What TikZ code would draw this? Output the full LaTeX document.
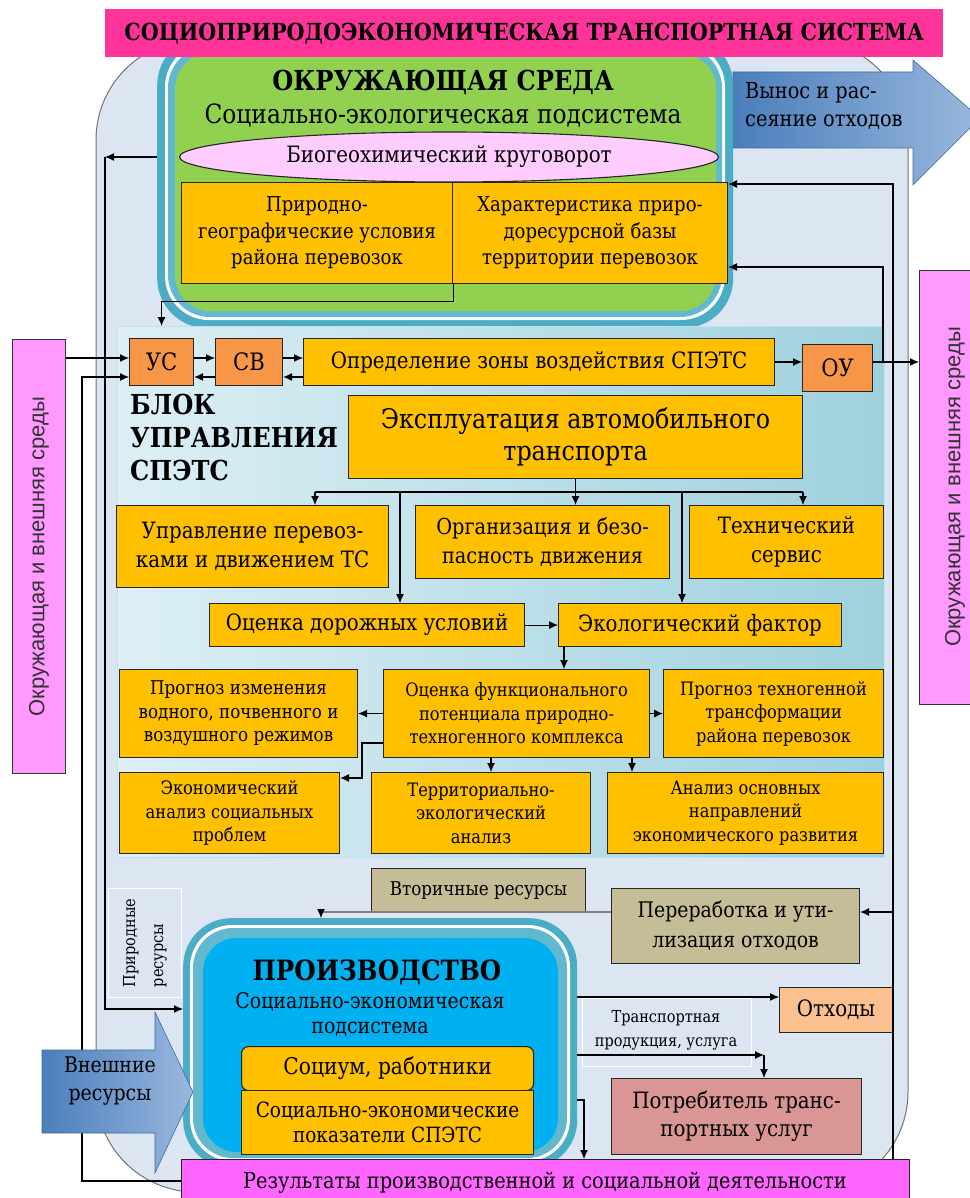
\documentclass[tikz,border=0pt]{standalone}
\usepackage{fontspec}
\setmainfont{DejaVu Serif}[FakeStretch=0.88]
\newfontfamily\sidefont{Liberation Sans}
\usetikzlibrary{arrows.meta,shapes.geometric,calc}

\definecolor{titlepink}{HTML}{FF3399}
\definecolor{respink}{HTML}{FF66FF}
\definecolor{sidepink}{HTML}{FF99FF}
\definecolor{elpink}{HTML}{FFCCFF}
\definecolor{gold}{HTML}{FFC000}
\definecolor{orng}{HTML}{F79646}
\definecolor{khaki}{HTML}{C4BD97}
\definecolor{peach}{HTML}{FAC090}
\definecolor{rosy}{HTML}{D99694}
\definecolor{leaf}{HTML}{92D050}
\definecolor{tealA}{HTML}{4BACC6}
\definecolor{tealB}{HTML}{62B8CF}
\definecolor{sky}{HTML}{00B0F0}
\definecolor{outerbg}{HTML}{DCE6F2}
\definecolor{blkL}{HTML}{DDEFF5}
\definecolor{blkR}{HTML}{9ED1DE}
\definecolor{arrL}{HTML}{4A7EBB}
\definecolor{arrR}{HTML}{9AB8DE}
\definecolor{arrEdge}{HTML}{3F6A9E}

% rectangle node given by its corners: name, x1, y1, x2, y2, style, text
\newcommand\bx[7]{%
  \pgfmathsetmacro\bxw{#4-#2}\pgfmathsetmacro\bxh{#5-#3}%
  \node[#6,anchor=north west,minimum width=\bxw pt,minimum height=\bxh pt] (#1) at (#2,#3) {#7};}
\newcommand\fsz[2]{\fontsize{#1}{#2}\selectfont}

\begin{document}
\begin{tikzpicture}[x=1pt,y=-1pt,
  box/.style={draw=black!85,line width=1.1pt,fill=gold,inner sep=0pt,align=center},
  obox/.style={box,fill=orng},
  pinkbox/.style={draw=black!80,line width=1.1pt,fill=sidepink,inner sep=0pt},
  arr/.style={-{Latex[length=9pt,width=8pt]},line width=1.1pt},
  ln/.style={line width=1.1pt},
  bigarrow/.style={left color=arrL,right color=arrR,draw=arrEdge,line width=0.6pt},
  lbl/.style={inner sep=0pt,align=center}]

\useasboundingbox (0,0) rectangle (969,1198);

% common background of the whole system
\draw[fill=outerbg,draw=black!55,line width=1pt,rounded corners=100] (96,40) rectangle (908,1192);

% side boxes: environment and outer world
\bx{sideL}{12}{339}{65}{773}{pinkbox}{}
\node[rotate=90,inner sep=0pt,font=\sidefont\fsz{22}{26},text=black!80] at (sideL.center) {Окружающая и внешняя среды};
\bx{sideR}{919}{270}{990}{704}{pinkbox}{}
\node[rotate=90,inner sep=0pt,font=\sidefont\fsz{22}{26},text=black!80] at (955,487) {Окружающая и внешняя среды};

% export and dispersion of waste
\draw[bigarrow] (733,72) -- (913,72) -- (913,60) -- (980,118) -- (913,185) -- (913,148) -- (733,148) -- cycle;
\node[lbl,anchor=west,align=left,font=\fsz{22}{28}] (vyn) at (745,106) {Вынос и рас-\\сеяние отходов};

% ---------- environment subsystem ----------
\bx{env}{157}{35}{733}{328}{fill=tealA,draw=none,rounded corners=50}{}
\fill[white,rounded corners=44] (165,43) rectangle (725,320);
\fill[tealB,rounded corners=42] (168,46) rectangle (722,317);
\fill[leaf,rounded corners=36] (175,53) rectangle (716,311);

% title
\bx{title}{105}{9}{943}{57}{fill=titlepink,draw=none,inner sep=0pt,font=\bfseries\fsz{23.5}{26}}{СОЦИОПРИРОДОЭКОНОМИЧЕСКАЯ ТРАНСПОРТНАЯ СИСТЕМА}

\node[lbl,font=\bfseries\fsz{27.5}{30}] (envt) at (443,82) {ОКРУЖАЮЩАЯ СРЕДА};
\node[lbl,font=\fsz{26.5}{30}] (envs) at (443,115) {Социально-экологическая подсистема};
\node[ellipse,draw=black!85,line width=1.1pt,fill=elpink,minimum width=539pt,minimum height=50pt,inner sep=0pt,font=\fsz{22.5}{26}] (bio) at (449,157) {Биогеохимический круговорот};
\bx{pg}{181}{182}{452}{283}{box,font=\fsz{20.5}{26.5}}{Природно-\\географические условия\\района перевозок}
\bx{hr}{452}{182}{727}{283}{box,font=\fsz{20.5}{26.5}}{Характеристика приро-\\доресурсной базы\\территории перевозок}

% ---------- control block ----------
\bx{blk}{117}{326}{884}{857}{left color=blkL,right color=blkR,draw=tealA!35,line width=1pt}{}
\bx{us}{129}{338}{193}{385}{obox,font=\fsz{24}{28}}{УС}
\bx{sv}{215}{338}{282}{385}{obox,font=\fsz{24}{28}}{СВ}
\bx{opr}{303}{338}{774}{385}{box,font=\fsz{22.5}{26}}{Определение зоны воздействия СПЭТС}
\bx{ou}{802}{344}{872}{391}{obox,font=\fsz{24}{28}}{ОУ}
\node[anchor=north west,inner sep=0pt,align=left,font=\bfseries\fsz{27.5}{33}] (blkl) at (130,394) {БЛОК\\УПРАВЛЕНИЯ\\СПЭТС};
\bx{exp}{348}{395}{802}{478}{box,font=\fsz{27}{32}}{Эксплуатация автомобильного\\транспорта}
\bx{upr}{116}{505}{388}{587}{box,font=\fsz{22.5}{29}}{Управление перевоз-\\ками и движением ТС}
\bx{org}{415}{505}{669}{578}{box,font=\fsz{22}{29}}{Организация и безо-\\пасность движения}
\bx{teh}{689}{505}{883}{578}{box,font=\fsz{22.5}{29}}{Технический\\сервис}
\bx{ocd}{209}{603}{524}{646}{box,font=\fsz{22.5}{26}}{Оценка дорожных условий}
\bx{eko}{558}{603}{841}{646}{box,font=\fsz{22.5}{26}}{Экологический фактор}
\bx{prz}{119}{669}{357}{757}{box,font=\fsz{19}{23.5}}{Прогноз изменения\\водного, почвенного и\\воздушного режимов}
\bx{ofp}{383}{669}{649}{757}{box,font=\fsz{18.5}{23.5}}{Оценка функционального\\потенциала природно-\\техногенного комплекса}
\bx{ptt}{663}{669}{883}{757}{box,font=\fsz{18.5}{23.5}}{Прогноз техногенной\\трансформации\\района перевозок}
\bx{ean}{119}{772}{339}{853}{box,font=\fsz{18.5}{23.5}}{Экономический\\анализ социальных\\проблем}
\bx{tea}{371}{772}{590}{853}{box,font=\fsz{18.5}{23.5}}{Территориально-\\экологический\\анализ}
\bx{aon}{607}{772}{883}{853}{box,font=\fsz{18.5}{23.5}}{Анализ основных\\направлений\\экономического развития}

% ---------- production subsystem ----------
\bx{nat}{108}{888}{181}{997}{draw=white,line width=1pt,inner sep=0pt}{}
\node[rotate=90,inner sep=0pt,align=left,font=\fsz{16.5}{28}] (natl) at (nat.center) {Природные\\ресурсы};
\bx{trl}{582}{998}{751}{1066}{draw=white,line width=1pt,inner sep=0pt}{}
\node[lbl,font=\fsz{16.5}{24}] (trlt) at (666,1030) {Транспортная\\продукция, услуга};

\bx{vr}{371}{868}{585}{912}{box,fill=khaki,font=\fsz{19}{24}}{Вторичные ресурсы}
\bx{per}{611}{888}{859}{963}{box,fill=khaki,font=\fsz{21.5}{30}}{Переработка и ути-\\лизация отходов}

\bx{prod}{183}{918}{577}{1168}{fill=tealA,draw=none,rounded corners=48}{}
\fill[white,rounded corners=42] (190,925) rectangle (570,1161);
\fill[tealB,rounded corners=40] (193,928) rectangle (567,1158);
\fill[sky,rounded corners=34] (203,938) rectangle (558,1152);
\node[lbl,font=\bfseries\fsz{28}{30}] (prodt) at (377,972) {ПРОИЗВОДСТВО};
\node[lbl,font=\fsz{21.5}{25}] (prods) at (370,1014) {Социально-экономическая\\подсистема};
\bx{soc}{241}{1046}{533}{1090}{box,rounded corners=7,font=\fsz{23}{27}}{Социум, работники}
\bx{sep}{241}{1090}{533}{1154}{box,font=\fsz{21}{25}}{Социально-экономические\\показатели СПЭТС}

\bx{otx}{779}{987}{892}{1032}{box,fill=peach,font=\fsz{22.5}{27}}{Отходы}
\bx{ptr}{611}{1078}{861}{1154}{box,fill=rosy,font=\fsz{22.5}{28}}{Потребитель транс-\\портных услуг}
\bx{res}{181}{1159}{909}{1215}{box,fill=respink}{}
\node[lbl,font=\fsz{22}{27}] (rest) at (545,1183) {Результаты производственной и социальной деятельности};

% ---------- connectors ----------
\coordinate (yA) at (0,358);
\coordinate (yB) at (0,377);
\coordinate (yOU) at (0,362);
\coordinate (xLa) at (105,0);
\coordinate (xLb) at (82,0);
\coordinate (xRa) at (883,0);
\coordinate (xRb) at (893,0);
\coordinate (yHr1) at (0,184);
\coordinate (yHr2) at (0,267);
\coordinate (yNat) at (0,1009);
\coordinate (yRes) at (0,1181);
\coordinate (yPer) at (0,912);

% biogeochemical cycle -> natural resources -> production
\coordinate (bioL) at (xLa |- bio.center);
\draw[arr] (env.west |- bio.center) -- (bioL);
\draw[arr] (bioL) -- (xLa |- yNat) -- (prod.west |- yNat);

% environment conditions -> control block
\draw[arr] (pg.south east) -- ++(0,17) -| (us.north |- blk.north);

% outer world and results -> УС
\draw[arr] (sideL.east |- yA) -- (us.west |- yA);
\draw[arr] (res.west |- yRes) -| (xLb |- yB) -- (us.west |- yB);

% control loop
\draw[arr] (us.east |- yA) -- (sv.west |- yA);
\draw[arr] (sv.west |- yB) -- (us.east |- yB);
\draw[arr] (sv.east |- yA) -- (opr.west |- yA);
\draw[arr] (opr.west |- yB) -- (sv.east |- yB);
\draw[arr] (opr.east |- yOU) -- (ou.west |- yOU);
\draw[arr] (ou.east |- yOU) -- (sideR.west |- yOU);
\coordinate (jOU) at (xRa |- yOU);
\draw[arr] (jOU) |- (hr.east |- yHr2);

% results -> resource base, recycling
\draw[arr] (xRb |- res.north) |- (hr.east |- yHr1);
\draw[arr] (xRb |- yPer) -- (per.east |- yPer);

% operation of road transport
\coordinate (yBr) at (0,492);
\coordinate (xA) at (315,0);
\coordinate (xB) at (400,0);
\coordinate (xC) at (682,0);
\coordinate (xD) at (803,0);
\draw[arr] (exp.south) -- (exp.south |- org.north);
\draw[ln] (xA |- yBr) -- (xD |- yBr);
\draw[arr] (xA |- yBr) -- (xA |- upr.north);
\draw[arr] (xD |- yBr) -- (xD |- teh.north);
\draw[arr] (xB |- yBr) -- (xB |- ocd.north);
\draw[arr] (xC |- yBr) -- (xC |- eko.north);
\draw[arr] (ocd.east) -- (eko.west);
\coordinate (xE) at (564,0);
\draw[arr] (xE |- eko.south) -- (xE |- ofp.north);
\draw[arr] (ofp.west) -- (prz.east);
\draw[arr] (ofp.east) -- (ptt.west);
\coordinate (xF) at (491,0);
\coordinate (xG) at (632,0);
\draw[arr] (xF |- ofp.south) -- (xF |- tea.north);
\draw[arr] (xG |- ofp.south) -- (xG |- aon.north);
\coordinate (y743) at (0,743);
\coordinate (y778) at (0,778);
\coordinate (x362) at (362,0);
\draw[arr] (ofp.west |- y743) -| (x362 |- y778) -- (ean.east |- y778);

% secondary resources back to production
\coordinate (x321) at (321,0);
\draw[line width=2pt,draw=black!50] (per.west |- yPer) -- (x321 |- yPer);
\draw[arr] (x321 |- yPer) -- (x321 |- prod.north);

% production outputs
\coordinate (y997) at (0,997);
\coordinate (y1055) at (0,1055);
\coordinate (y1100) at (0,1100);
\coordinate (x764) at (764,0);
\coordinate (x584) at (584,0);
\draw[arr] (prod.east |- y997) -- (otx.west |- y997);
\draw[arr] (prod.east |- y1055) -- (x764 |- y1055);
\draw[arr] (x764 |- y1055) -- (x764 |- ptr.north);
\draw[arr] (prod.east |- y1100) -| (x584 |- res.north);

% external resources
\draw[bigarrow] (42,1050) -- (155,1050) -- (155,1012) -- (193,1092) -- (155,1173) -- (155,1133) -- (42,1133) -- cycle;
\node[lbl,font=\fsz{21.5}{28}] (ext) at (110,1081) {Внешние\\ресурсы};

\end{tikzpicture}
\end{document}
